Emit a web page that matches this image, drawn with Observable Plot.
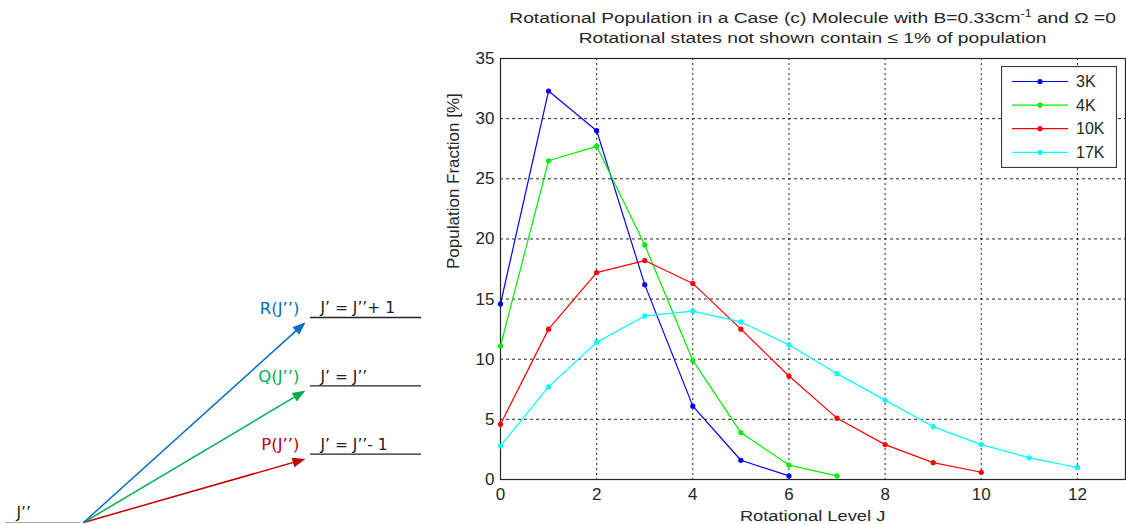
<!DOCTYPE html>
<html>
<head>
<meta charset="utf-8">
<script src="https://cdn.jsdelivr.net/npm/d3@7"></script>
<script src="https://cdn.jsdelivr.net/npm/@observablehq/plot@0.6"></script>
<style>
  html, body { margin: 0; padding: 0; background: white; }
  #wrap { position: relative; width: 1126px; height: 524px; overflow: hidden; font-family: "Liberation Sans", Arial, sans-serif; color: #262626; }
  #wrap > * { position: absolute; }
  .title { left: 500px; width: 625px; text-align: center; font-size: 15.5px; white-space: nowrap; transform: scaleX(1.24); transform-origin: 312px 0; }
  sup { font-size: 10px; vertical-align: baseline; position: relative; top: -6px; }
</style>
</head>
<body>
<div id="wrap">
  <div id="main" style="left:0;top:0"></div>
  <div id="diagram" style="left:0;top:0"></div>
  <div class="title" style="top:9px">Rotational Population in a Case (c) Molecule with B=0.33cm<sup>-1</sup> and Ω =0</div>
  <div class="title" style="top:29px">Rotational states not shown contain ≤ 1% of population</div>
  <div class="title" id="xlabel" style="top:507px;transform:scaleX(1.18)"></div>
  <div id="legend" style="left:1001px;top:66px"></div>
</div>
<script>
// ---------- data ----------
const seriesNames = ["3K", "4K", "10K", "17K"];
const seriesColors = ["#0000ff", "#00ee00", "#ff0000", "#00ffff"];
const pop3K = [14.6, 32.3, 29.0, 16.2, 6.1, 1.6, 0.3];
const pop4K = [11.1, 26.5, 27.7, 19.5, 9.9, 3.9, 1.2, 0.3];
const pop10K = [4.6, 12.5, 17.2, 18.2, 16.3, 12.5, 8.6, 5.1, 2.9, 1.4, 0.6];
const pop17K = [2.8, 7.7, 11.4, 13.6, 14.0, 13.1, 11.2, 8.8, 6.6, 4.4, 2.9, 1.8, 1.0];
const xTicks = [0, 2, 4, 6, 8, 10, 12];
const yTicks = [0, 5, 10, 15, 20, 25, 30, 35];
const titleX = "Rotational Level J";
const titleY = "Population Fraction [%]";

// diagram (schematic energy levels)
const branchNames = ["P(J’’)", "Q(J’’)", "R(J’’)"];
const branchLevels = ["J’ = J’’- 1", "J’ = J’’", "J’ = J’’+ 1"];
const branchEnergy = [1, 2, 3];
const branchColors = ["#c00000", "#00b050", "#0070c0"];
const lowerLabel = "J’’";

// ---------- main chart ----------
const allPops = [pop3K, pop4K, pop10K, pop17K];
const rows = allPops.flatMap((arr, i) => arr.map((v, j) => ({ series: seriesNames[i], J: j, pop: v })));

const main = Plot.plot({
  width: 1126, height: 524,
  marginLeft: 500, marginRight: 1, marginTop: 58, marginBottom: 45,
  style: { fontFamily: "Liberation Sans, Arial, sans-serif", fontSize: "17px", color: "#262626", background: "transparent" },
  x: { domain: [0, 13] },
  y: { domain: [0, 35] },
  color: { domain: seriesNames, range: seriesColors },
  marks: [
    Plot.gridX(xTicks.slice(1), { stroke: "#000", strokeOpacity: 0.85, strokeDasharray: "2,3" }),
    Plot.gridY(yTicks.slice(1, -1), { stroke: "#000", strokeOpacity: 0.85, strokeDasharray: "3,3" }),
    Plot.axisX(xTicks, { tickSize: 0, tickPadding: 8, label: null, fontSize: 17 }),
    Plot.axisY(yTicks, { tickSize: 0, tickPadding: 6, label: null, fontSize: 17 }),
    Plot.frame({ stroke: "#262626", strokeWidth: 1.2 }),
    Plot.line(rows, { x: "J", y: "pop", z: "series", stroke: "series", strokeWidth: 1.2 }),
    Plot.dot(rows, { x: "J", y: "pop", fill: "series", r: 2.6 }),
    Plot.text([titleY], { text: d => d, frameAnchor: "left", dx: -47, rotate: -90, fontSize: 17 })
  ]
});
document.getElementById("main").append(main);
document.getElementById("xlabel").textContent = titleX;

// ---------- legend ----------
{
  const w = 116, h = 102, rowH = 23.6, top = 15.5;
  const svg = d3.create("svg").attr("width", w).attr("height", h);
  svg.append("rect").attr("x", 0.5).attr("y", 0.5).attr("width", w - 1).attr("height", h - 1)
    .attr("fill", "white").attr("stroke", "#3a3a3a").attr("stroke-width", 1.2);
  seriesNames.forEach((name, i) => {
    const y = top + i * rowH;
    svg.append("line").attr("x1", 11).attr("x2", 67).attr("y1", y).attr("y2", y)
      .attr("stroke", seriesColors[i]).attr("stroke-width", 1.2);
    svg.append("circle").attr("cx", 39).attr("cy", y).attr("r", 2.6).attr("fill", seriesColors[i]);
    svg.append("text").attr("x", 75).attr("y", y).attr("dy", "0.35em")
      .attr("font-family", "Liberation Sans, Arial, sans-serif").attr("font-size", 16)
      .attr("fill", "#262626").text(name);
  });
  document.getElementById("legend").append(svg.node());
}

// ---------- diagram ----------
{
  const xDomain = [0, 440], yDomain = [0, 3];
  const xRange = [0, 440], yRange = [522, 317];
  const xs = d3.scaleLinear(xDomain, xRange), ys = d3.scaleLinear(yDomain, yRange);
  const lowerX = [5, 80], upperX = [310, 421], arrowX = [83, 305], tipDrop = 0.07;
  const labelRight = 299, eqLeft = 320;
  const headLen = 13, headHalf = 5;
  const arrowHead = {
    draw(context) {
      context.moveTo(0, 0);
      context.lineTo(-headHalf, headLen);
      context.lineTo(headHalf, headLen);
      context.closePath();
    }
  };

  const arrows = branchEnergy.map((e, i) => {
    const px0 = xs(arrowX[0]), py0 = ys(0), px1 = xs(arrowX[1]), py1 = ys(e - tipDrop);
    const dx = px1 - px0, dy = py1 - py0, len = Math.hypot(dx, dy);
    const ux = dx / len, uy = dy / len;
    return {
      x1: arrowX[0], y1: 0, x2: arrowX[1], y2: e - tipDrop,
      lx: xs.invert(px1 - ux * 8), ly: ys.invert(py1 - uy * 8),
      rot: Math.atan2(dx, -dy) * 180 / Math.PI,
      color: branchColors[i], name: branchNames[i], level: branchLevels[i], e
    };
  });

  const diag = Plot.plot({
    width: 440, height: 524, margin: 0,
    style: { background: "transparent", fontFamily: "DejaVu Sans, sans-serif" },
    x: { domain: xDomain, range: xRange, axis: null },
    y: { domain: yDomain, range: yRange, axis: null },
    marks: [
      Plot.ruleY([0], { x1: lowerX[0], x2: lowerX[1], stroke: "#a6a6a6", strokeWidth: 1 }),
      Plot.ruleY(branchEnergy, { x1: upperX[0], x2: upperX[1], stroke: "#222", strokeWidth: 1.3 }),
      Plot.link(arrows, { x1: "x1", y1: "y1", x2: "lx", y2: "ly", stroke: "color", strokeWidth: 1.5 }),
      Plot.dot(arrows, { x: "x2", y: "y2", symbol: arrowHead, r: 4, fill: "color", stroke: "none", rotate: "rot" }),
      Plot.text(arrows, { x: labelRight, y: "e", text: "name", fill: "color", textAnchor: "end", dy: -9, fontSize: 16.5 }),
      Plot.text(arrows, { x: eqLeft, y: "e", text: "level", fill: "#222", textAnchor: "start", dy: -9, fontSize: 15.5 }),
      Plot.text([lowerLabel], { x: 16, y: 0, text: d => d, fill: "#222", textAnchor: "start", dy: -9, fontSize: 15.5 })
    ]
  });
  document.getElementById("diagram").append(diag);
}
</script>
</body>
</html>
